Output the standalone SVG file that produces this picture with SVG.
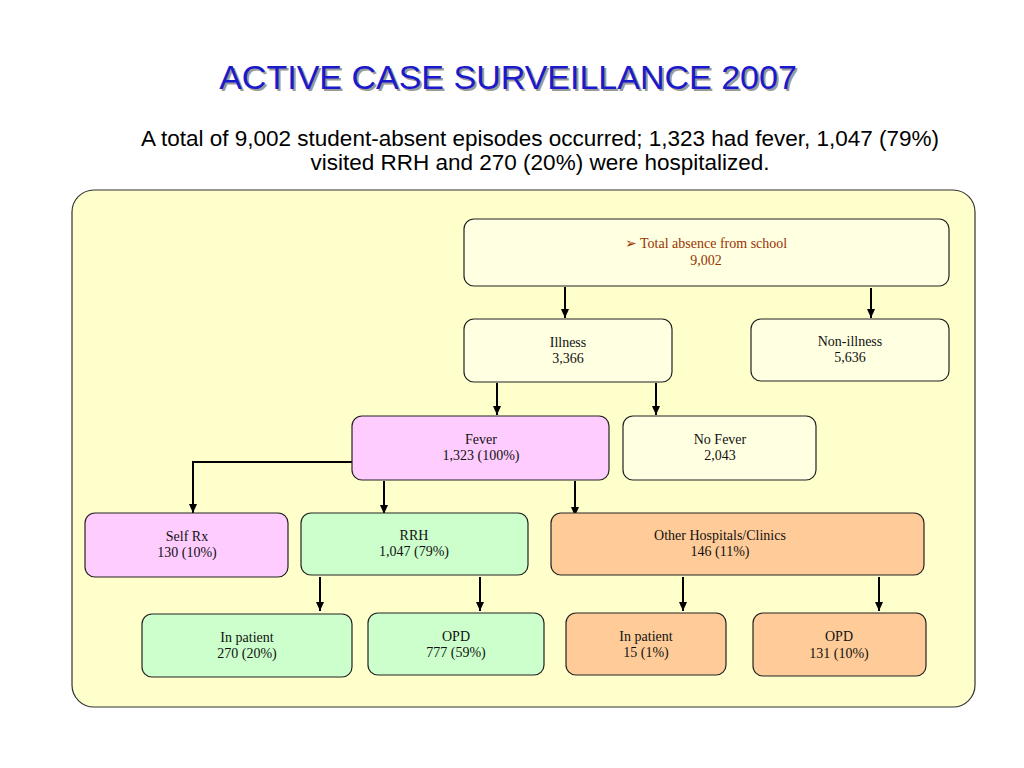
<svg xmlns="http://www.w3.org/2000/svg" width="1024" height="768" viewBox="0 0 1024 768">
<defs>
<marker id="ah" markerWidth="10" markerHeight="10" refX="9" refY="5" orient="auto" markerUnits="userSpaceOnUse" viewBox="0 0 10 10">
<path d="M0,1 L9,5 L0,9 Z" fill="#000"/>
</marker>
</defs>
<style>
.node rect{stroke:#222;stroke-width:1.2}
.yel{fill:#ffffe2}
.pink{fill:#ffccff}
.green{fill:#ccffcc}
.orange{fill:#ffcc99}
.lbl{font-family:"Liberation Serif","Times New Roman",serif;font-size:14px;fill:#111;text-anchor:middle}
.brown{fill:#993300}
.conn path,.conn line{stroke:#000;stroke-width:2;fill:none;marker-end:url(#ah)}
</style>
<rect width="1024" height="768" fill="#fff"/>
<g id="title">
<text x="510" y="91" font-family="Liberation Sans,Arial,sans-serif" font-size="34" fill="#9a9a9a" text-anchor="middle">ACTIVE CASE SURVEILLANCE 2007</text>
<text x="508" y="89" font-family="Liberation Sans,Arial,sans-serif" font-size="34" fill="#1a1acc" text-anchor="middle">ACTIVE CASE SURVEILLANCE 2007</text>
</g>
<g id="subtitle" font-family="Liberation Sans,Arial,sans-serif" font-size="22.5" fill="#000" text-anchor="middle">
<text x="540" y="146">A total of 9,002 student-absent episodes occurred; 1,323 had fever, 1,047 (79%)</text>
<text x="540" y="170">visited RRH and 270 (20%) were hospitalized.</text>
</g>
<rect id="panel" x="72" y="190" width="903" height="517" rx="22" fill="#ffffcc" stroke="#333" stroke-width="1.2"/>
<g id="connectors" class="conn">
<line x1="565" y1="287" x2="565" y2="318"/>
<line x1="871" y1="288" x2="871" y2="318"/>
<line x1="497" y1="383" x2="497" y2="415"/>
<line x1="656" y1="383" x2="656" y2="415"/>
<path d="M352,462 L193,462 L193,513"/>
<line x1="384" y1="481" x2="384" y2="514"/>
<line x1="575" y1="481" x2="575" y2="516"/>
<line x1="320" y1="577" x2="320" y2="611"/>
<line x1="480" y1="577" x2="480" y2="611"/>
<line x1="683" y1="577" x2="683" y2="611"/>
<line x1="879" y1="577" x2="879" y2="611"/>
</g>
<g id="total" class="node">
<rect class="yel" x="464" y="219" width="485" height="67" rx="10"/>
<text class="lbl brown" x="706" y="248">➢ Total absence from school</text>
<text class="lbl brown" x="706" y="265">9,002</text>
</g>
<g id="illness" class="node">
<rect class="yel" x="464" y="319" width="208" height="63" rx="10"/>
<text class="lbl" x="568" y="347">Illness</text>
<text class="lbl" x="568" y="363">3,366</text>
</g>
<g id="nonillness" class="node">
<rect class="yel" x="751" y="319" width="198" height="62" rx="10"/>
<text class="lbl" x="850" y="346">Non-illness</text>
<text class="lbl" x="850" y="362">5,636</text>
</g>
<g id="fever" class="node">
<rect class="pink" x="352" y="416" width="257" height="64" rx="10"/>
<text class="lbl" x="481" y="444">Fever</text>
<text class="lbl" x="481" y="460">1,323 (100%)</text>
</g>
<g id="nofever" class="node">
<rect class="yel" x="623" y="416" width="193" height="64" rx="10"/>
<text class="lbl" x="720" y="444">No Fever</text>
<text class="lbl" x="720" y="460">2,043</text>
</g>
<g id="selfrx" class="node">
<rect class="pink" x="85" y="513" width="203" height="64" rx="10"/>
<text class="lbl" x="187" y="541">Self Rx</text>
<text class="lbl" x="187" y="557">130 (10%)</text>
</g>
<g id="rrh" class="node">
<rect class="green" x="301" y="513" width="227" height="62" rx="10"/>
<text class="lbl" x="414" y="540">RRH</text>
<text class="lbl" x="414" y="556">1,047 (79%)</text>
</g>
<g id="other" class="node">
<rect class="orange" x="551" y="513" width="373" height="62" rx="10"/>
<text class="lbl" x="720" y="540">Other Hospitals/Clinics</text>
<text class="lbl" x="720" y="556">146 (11%)</text>
</g>
<g id="rrh-inpatient" class="node">
<rect class="green" x="142" y="614" width="210" height="63" rx="10"/>
<text class="lbl" x="247" y="642">In patient</text>
<text class="lbl" x="247" y="658">270 (20%)</text>
</g>
<g id="rrh-opd" class="node">
<rect class="green" x="368" y="613" width="176" height="62" rx="10"/>
<text class="lbl" x="456" y="641">OPD</text>
<text class="lbl" x="456" y="657">777 (59%)</text>
</g>
<g id="other-inpatient" class="node">
<rect class="orange" x="566" y="613" width="160" height="62" rx="10"/>
<text class="lbl" x="646" y="641">In patient</text>
<text class="lbl" x="646" y="657">15 (1%)</text>
</g>
<g id="other-opd" class="node">
<rect class="orange" x="753" y="613" width="173" height="63" rx="10"/>
<text class="lbl" x="839" y="641">OPD</text>
<text class="lbl" x="839" y="658">131 (10%)</text>
</g>
</svg>
